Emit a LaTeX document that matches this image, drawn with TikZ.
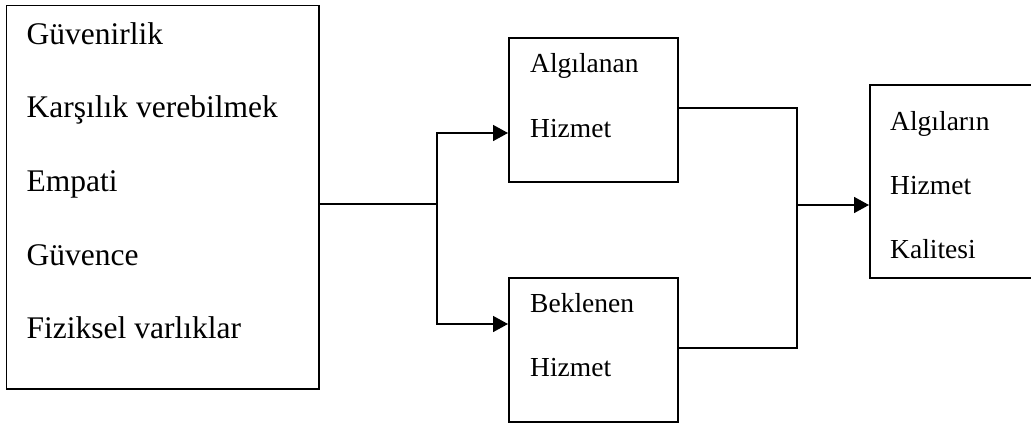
\documentclass[tikz,border=0pt]{standalone}
\usepackage{fontspec}
\setmainfont{Liberation Serif}
\usetikzlibrary{arrows.meta}
\tikzset{
  boxnode/.style={draw=black, line width=1.6pt, rectangle, inner sep=0pt, anchor=north west},
  bigtext/.style={anchor=base west, inner sep=0pt, font=\fontsize{31.5}{36}\selectfont},
  smalltext/.style={anchor=base west, inner sep=0pt, font=\fontsize{27.5}{32}\selectfont},
  conn/.style={line width=1.6pt, black},
  arr/.style={conn, -{Triangle[length=15pt,width=16pt]}}
}
\begin{document}
\begin{tikzpicture}[x=1pt,y=-1pt]
\useasboundingbox[fill=white] (0,0) rectangle (1031,423);
% boxes
\node[boxnode, minimum width=312.5pt, minimum height=383.8pt] (L) at (5.5,4.5) {};
\node[boxnode, minimum width=169pt, minimum height=144pt] (A) at (508,37) {};
\node[boxnode, minimum width=169pt, minimum height=144pt] (B) at (508,277) {};
\node[boxnode, minimum width=166pt, minimum height=193pt] (Q) at (869,84) {};
% texts
\node[bigtext] (t1) at (26.5,44) {Güvenirlik};
\node[bigtext] (t2) at (26.5,117.5) {Karşılık verebilmek};
\node[bigtext] (t3) at (26.5,191) {Empati};
\node[bigtext] (t4) at (26.5,265) {Güvence};
\node[bigtext] (t5) at (26.5,338.5) {Fiziksel varlıklar};
\node[smalltext] (a1) at (530,72.3) {Algılanan};
\node[smalltext] (a2) at (530,137.3) {Hizmet};
\node[smalltext] (b1) at (530,312) {Beklenen};
\node[smalltext] (b2) at (530,376.7) {Hizmet};
\node[smalltext] (q1) at (890,130) {Algıların};
\node[smalltext] (q2) at (890,194) {Hizmet};
\node[smalltext] (q3) at (890,258.3) {Kalitesi};
% junction coordinates
\coordinate (j1) at (437,204);
\coordinate (ja) at (437,133);
\coordinate (jb) at (437,324);
\coordinate (ka) at (797,108);
\coordinate (kb) at (797,348);
\coordinate (kq) at (797,205);
% connectors
\draw[conn] (L.east |- j1) -- (j1);
\draw[arr] (j1) -- (ja) -- (A.west |- ja);
\draw[arr] (j1) -- (jb) -- (B.west |- jb);
\draw[conn] (A.east |- ka) -- (ka) -- (kb) -- (B.east |- kb);
\draw[arr] (kq) -- (Q.west |- kq);
\end{tikzpicture}
\end{document}
